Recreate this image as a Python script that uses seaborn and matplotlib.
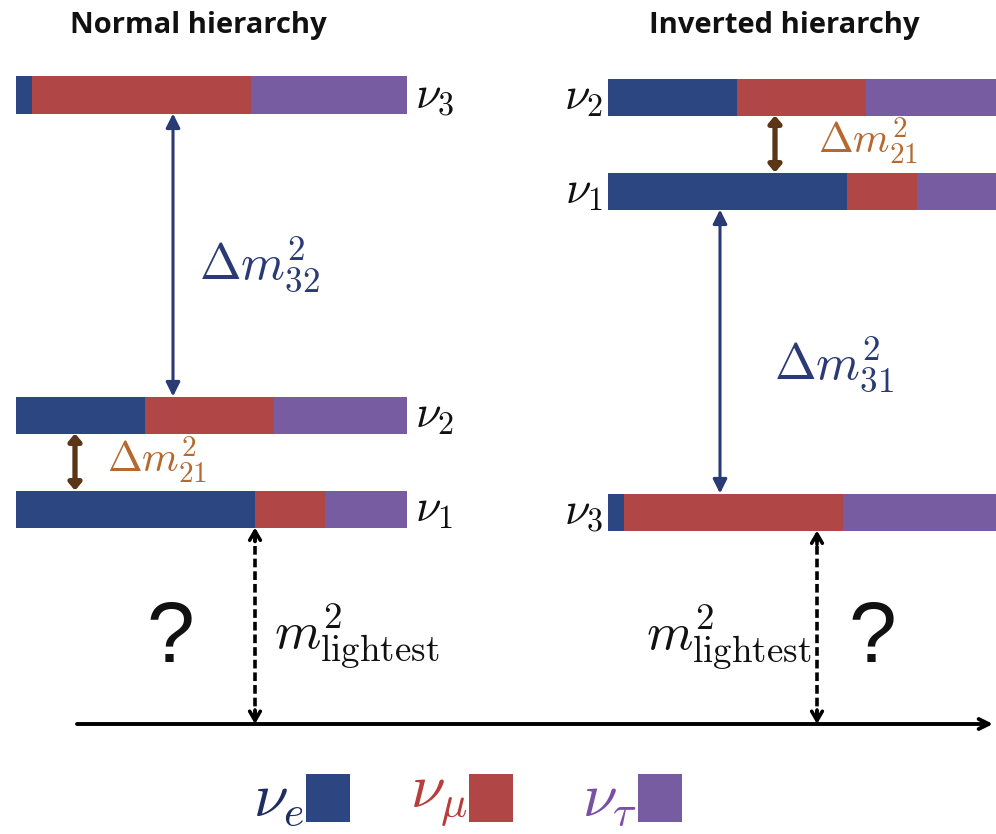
import matplotlib
matplotlib.use("Agg")
import matplotlib.pyplot as plt
from matplotlib.patches import Rectangle
import numpy as np
import pandas as pd
import seaborn as sns

# ---- data -------------------------------------------------------------
# flavour content |U_{alpha i}|^2 of each mass state (nu_1, nu_2, nu_3)
mass_states = ["1", "2", "3"]
frac_e = [0.61, 0.33, 0.04]
frac_mu = [0.18, 0.33, 0.56]
frac_tau = [0.21, 0.34, 0.40]

# mass-squared levels (arbitrary units, 0 = m^2 = 0 axis)
normal_levels = [2.15, 3.09, 6.29]
inverted_levels = [5.33, 6.27, 2.12]

flavors = ["e", "mu", "tau"]
flavor_tex = [r"$\nu_e$", r"$\nu_\mu$", r"$\nu_\tau$"]
flavor_colors = ["#2b4680", "#b04646", "#785ca2"]
legend_text_colors = ["#1f2d60", "#b83e3e", "#7a50a4"]

titles = ["Normal hierarchy", "Inverted hierarchy"]

# ---- style ------------------------------------------------------------
sns.set_theme(style="white")
plt.rcParams["mathtext.fontset"] = "cm"
plt.rcParams["font.family"] = ["DejaVu Sans"]

NAVY = "#2a3a74"
BROWN_ARROW = "#5a3617"
BROWN_TEXT = "#b5692f"

fig = plt.figure(figsize=(9.96, 8.34), dpi=100)
ax = fig.add_axes([0, 0, 1, 1])
ax.set_xlim(0, 9.96)
ax.set_ylim(-1.10, 7.24)
ax.axis("off")

bar_len = 3.91
bar_h = 0.37
x_normal = 0.16
x_inverted = 6.08

# long table of stacked segments
rows = []
for hier, x0, levels in [("normal", x_normal, normal_levels),
                         ("inverted", x_inverted, inverted_levels)]:
    for i, st in enumerate(mass_states):
        fr = [frac_e[i], frac_mu[i], frac_tau[i]]
        cum = np.concatenate([[0], np.cumsum(fr)[:-1]])
        for f, c, w in zip(flavors, cum, fr):
            rows.append(dict(hierarchy=hier, state=st, flavor=f,
                             level=levels[i], left=x0 + c * bar_len,
                             width=w * bar_len))
segments = pd.DataFrame(rows)

palette = dict(zip(flavors, flavor_colors))
for f in flavors:
    sub = segments[segments.flavor == f]
    ax.barh(sub.level, sub.width, left=sub.left, height=bar_h,
            color=palette[f], edgecolor="none", linewidth=0)

# mass-state labels
for i, st in enumerate(mass_states):
    ax.text(x_normal + bar_len + 0.08, normal_levels[i], rf"$\nu_{st}$",
            fontsize=33, ha="left", va="center", color="#111111")
    ax.text(x_inverted - 0.05, inverted_levels[i], rf"$\nu_{st}$",
            fontsize=33, ha="right", va="center", color="#111111")

# titles
ax.text(x_normal + 1.82, 6.99, titles[0], fontsize=21, fontweight="bold",
        family="Open Sans", ha="center", va="center", color="#111111")
ax.text(x_inverted + 1.76, 6.99, titles[1], fontsize=21, fontweight="bold",
        family="Open Sans", ha="center", va="center", color="#111111")


def double_arrow(x, y0, y1, color, lw, hl, hw):
    ax.annotate("", xy=(x, y1), xytext=(x, y0),
                arrowprops=dict(arrowstyle=f"<|-|>,head_length={hl},head_width={hw}",
                                color=color, lw=lw, shrinkA=0, shrinkB=0))


def dashed_arrow(x, y0, y1):
    ax.plot([x, x], [y0 + 0.05, y1 - 0.05], color="black", lw=2.6,
            ls=(0, (2.4, 1.1)), solid_capstyle="butt")
    for ya, yb in [(y0 + 0.14, y0), (y1 - 0.14, y1)]:
        ax.annotate("", xy=(x, yb), xytext=(x, ya),
                    arrowprops=dict(arrowstyle="->,head_length=0.55,head_width=0.32",
                                    color="black", lw=2.6, shrinkA=0, shrinkB=0))


half = bar_h / 2
nl, il = normal_levels, inverted_levels

# normal hierarchy splittings
double_arrow(1.73, nl[1] + half, nl[2] - half, NAVY, 2.2, 0.7, 0.35)
ax.text(1.99, 4.60, r"$\Delta m^2_{32}$", fontsize=36, color=NAVY,
        ha="left", va="center")
double_arrow(0.75, nl[0] + half, nl[1] - half, BROWN_ARROW, 3.8, 0.35, 0.3)
ax.text(1.07, 2.64, r"$\Delta m^2_{21}$", fontsize=30, color=BROWN_TEXT,
        ha="left", va="center")
dashed_arrow(2.55, 0.0, nl[0] - half)
ax.text(2.74, 0.88, r"$m^2_{\rm lightest}$", fontsize=38, color="#111111",
        ha="left", va="center")
ax.text(1.70, 0.84, "?", fontsize=62, family="Liberation Sans",
        ha="center", va="center", color="#111111")

# inverted hierarchy splittings
double_arrow(7.75, il[0] + half, il[1] - half, BROWN_ARROW, 3.8, 0.35, 0.3)
ax.text(8.18, 5.83, r"$\Delta m^2_{21}$", fontsize=30, color=BROWN_TEXT,
        ha="left", va="center")
double_arrow(7.20, il[2] + half, il[0] - half, NAVY, 2.2, 0.7, 0.35)
ax.text(7.74, 3.60, r"$\Delta m^2_{31}$", fontsize=36, color=NAVY,
        ha="left", va="center")
dashed_arrow(8.17, 0.0, il[2] - half)
ax.text(8.11, 0.87, r"$m^2_{\rm lightest}$", fontsize=38, color="#111111",
        ha="right", va="center")
ax.text(8.72, 0.84, "?", fontsize=62, family="Liberation Sans",
        ha="center", va="center", color="#111111")

# m^2 = 0 axis
ax.annotate("", xy=(9.93, 0.0), xytext=(0.77, 0.0),
            arrowprops=dict(arrowstyle="->,head_length=0.6,head_width=0.3",
                            color="black", lw=2.8, shrinkA=0, shrinkB=0))

# flavour legend
legend_x = [3.06, 4.69, 6.38]
for lx, tex, col, tcol in zip(legend_x, flavor_tex, flavor_colors,
                              legend_text_colors):
    ax.text(lx - 0.01, -0.74, tex, fontsize=45, color=tcol,
            ha="right", va="center")
    ax.add_patch(Rectangle((lx, -0.98), 0.44, 0.48, color=col, lw=0))

fig.savefig("out.png", dpi=100)
